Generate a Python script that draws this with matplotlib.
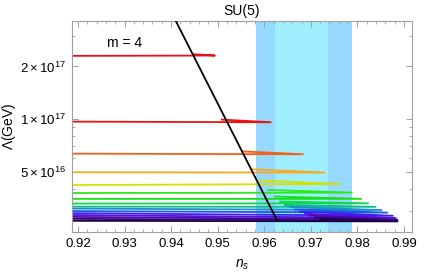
import numpy as np
import matplotlib.pyplot as plt
from matplotlib.ticker import FixedLocator, NullFormatter, LogLocator, MultipleLocator

plt.rcParams['font.family'] = ['Liberation Sans', 'DejaVu Sans']
plt.rcParams['mathtext.fontset'] = 'custom'
plt.rcParams['mathtext.rm'] = 'Liberation Sans'
plt.rcParams['mathtext.it'] = 'Liberation Sans:italic'

# hairpin curves: start on the left, go out to the tip, come back a bit higher
ns_start = 0.918
lam_start = [23.0, 9.69, 6.36, 4.98, 4.21, 3.79, 3.51, 3.30, 3.17, 3.09, 2.99, 2.91, 2.84, 2.77, 2.70, 2.63]
ns_tip = [0.9494, 0.9614, 0.9683, 0.9729, 0.9763, 0.9788, 0.9808, 0.9823, 0.9839, 0.9852,
          0.9864, 0.9876, 0.9882, 0.9885, 0.9886, 0.9886]
lam_tip = [23.1, 9.61, 6.31, 4.96, 4.27, 3.81, 3.51, 3.31, 3.16, 3.03, 2.93, 2.81, 2.73, 2.68, 2.64, 2.61]
ns_back = [0.9447, 0.9509, 0.9554, 0.9574, 0.9591, 0.9608, 0.9623, 0.9634, 0.9644, 0.9655,
           0.9666, 0.9677, 0.9687, 0.9698, 0.9709, 0.9720]
lam_back = [23.5, 9.95, 6.55, 5.18, 4.46, 3.95, 3.62, 3.39, 3.24, 3.15, 3.05, 2.97, 2.89, 2.82, 2.75, 2.68]
colors = ['#e8101a', '#ee1111', '#f2601c', '#f5aa21', '#d5e000', '#2ee81a', '#14e014', '#10d84a',
          '#12b890', '#1a90c8', '#1c58e8', '#3a22f0', '#5a10e0', '#4a08b0', '#300478', '#1c0240']

# black line (units of 1e16 GeV)
black_ns = [0.9398, 0.9627]
black_lam = [42.1, 2.66]

# n_s bands
band_outer = (0.9582, 0.9788)
band_inner = (0.9624, 0.9737)

fig = plt.figure(figsize=(4.36, 2.72), dpi=100)
ax = fig.add_axes([0.165, 0.147, 0.78, 0.776])

ax.axvspan(*band_outer, color='#96d8fe', lw=0, zorder=0)
ax.axvspan(*band_inner, color='#9eeeff', lw=0, zorder=0)

for i in range(len(lam_start)):
    xs = [ns_start, ns_tip[i], ns_back[i]]
    ys = np.array([lam_start[i], lam_tip[i], lam_back[i]]) * 1e16
    ax.plot(xs, ys, color=colors[i], lw=1.3, solid_joinstyle='round', zorder=2)

ax.plot(black_ns, np.array(black_lam) * 1e16, color='black', lw=1.3, zorder=3)

ax.set_yscale('log')
ax.set_xlim(0.91871, 0.99172)
ax.set_ylim(2.27e16, 3.64e17)

ax.xaxis.set_major_locator(MultipleLocator(0.01))
ax.xaxis.set_minor_locator(MultipleLocator(0.002))
ax.xaxis.set_major_formatter(plt.FuncFormatter(lambda v, p: f'{v:.2f}'))

ax.yaxis.set_major_locator(FixedLocator([5e16, 1e17, 2e17]))
ax.yaxis.set_minor_locator(LogLocator(base=10, subs=np.arange(1, 10)))
ax.yaxis.set_minor_formatter(NullFormatter())
ax.set_yticklabels([r'$5\times10^{16}$', r'$1\times10^{17}$', r'$2\times10^{17}$'])

ax.tick_params(which='both', direction='in', top=True, right=True, color='#a0a0a0',
               labelsize=9.5, pad=4)
ax.tick_params(which='major', length=4, width=0.7)
ax.tick_params(which='minor', length=2, width=0.6)
for s in ax.spines.values():
    s.set_color('#a0a0a0')
    s.set_linewidth(0.8)

ax.set_title('SU(5)', fontsize=10, pad=4)
ax.set_xlabel(r'$n_s$', fontsize=10, labelpad=6)
ax.set_ylabel(r'$\Lambda$(GeV)', fontsize=10)
ax.yaxis.set_label_coords(-0.158, 0.5)
ax.text(0.9301, 2.73e17, 'm = 4', fontsize=10, ha='center', va='center')

fig.savefig('out.png', dpi=100)
